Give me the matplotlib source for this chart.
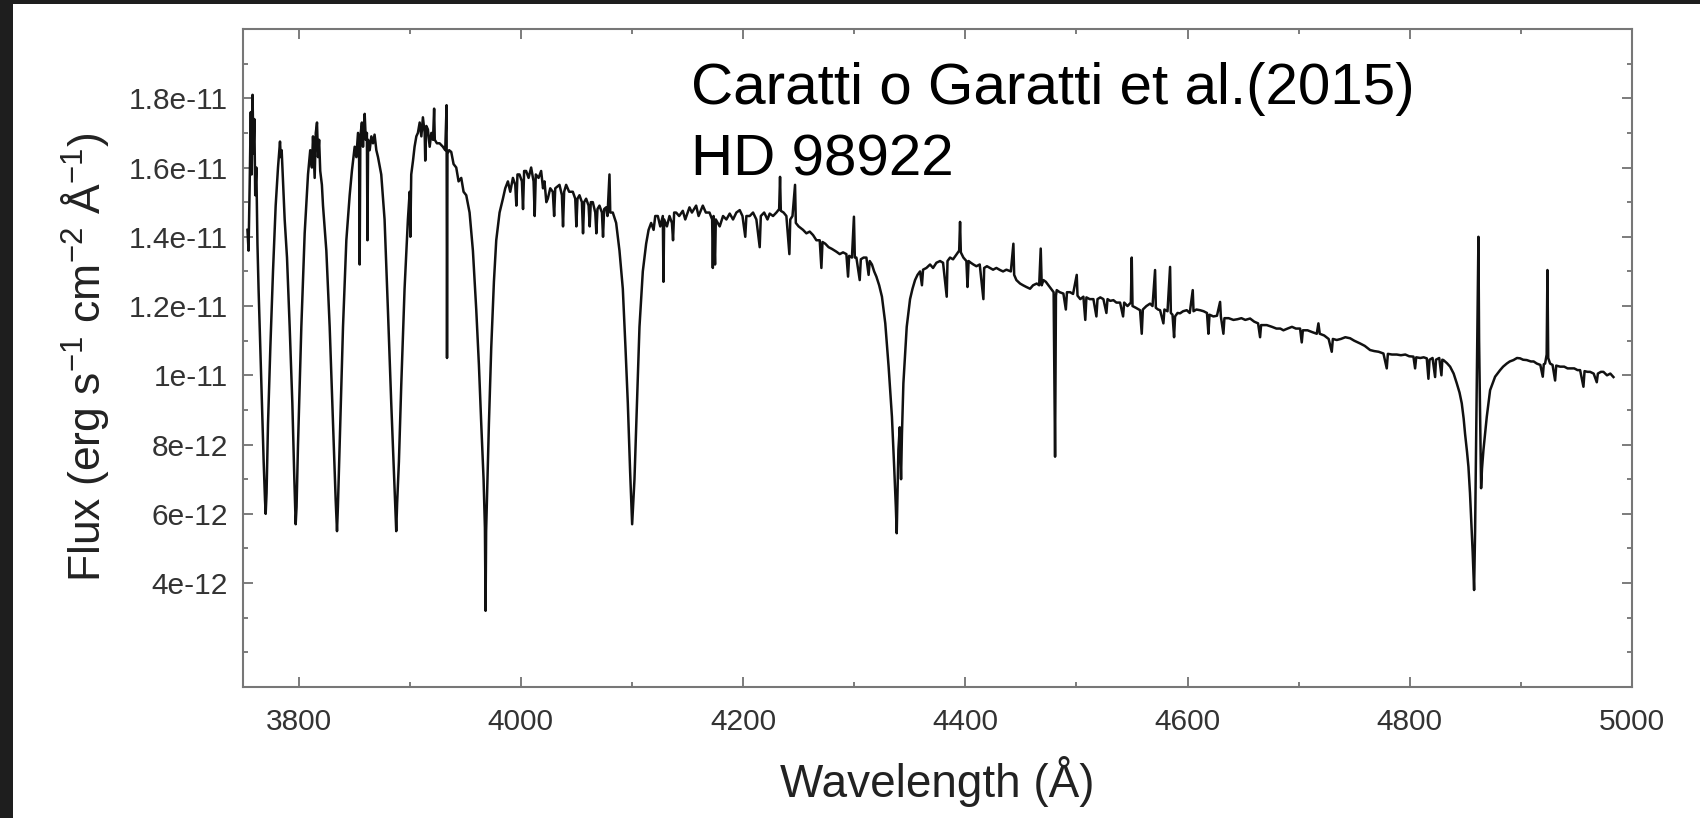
import matplotlib
matplotlib.use('Agg')
import matplotlib.pyplot as plt
from matplotlib.patches import Rectangle
from matplotlib.ticker import FixedLocator, FixedFormatter, MultipleLocator

plt.rcParams['font.family'] = ['Liberation Sans', 'DejaVu Sans']
plt.rcParams['mathtext.fontset'] = 'custom'
plt.rcParams['mathtext.rm'] = 'Liberation Sans'
plt.rcParams['mathtext.it'] = 'Liberation Sans'
plt.rcParams['mathtext.default'] = 'regular'

# Spectrum, split in pieces (flux in units of 1e-12)
# 3750 - 3980 A : high Balmer lines, Ca II H and K
wl_blue = [3754.0, 3755.0, 3756.0, 3757.0, 3757.8, 3758.6, 3759.4, 3760.2, 3761.0, 3762.0,
           3763.0, 3764.0, 3765.0, 3767.0, 3768.6, 3769.8, 3770.4, 3771.2, 3772.5, 3774.6,
           3777.0, 3779.4, 3781.5, 3782.5, 3783.3, 3784.0, 3784.8, 3786.0, 3787.5, 3789.6,
           3792.0, 3794.4, 3796.2, 3797.4, 3798.2, 3799.5, 3802.5, 3805.5, 3808.5, 3810.5,
           3812.0, 3813.0, 3814.5, 3815.5, 3816.6, 3817.5, 3818.5, 3819.5, 3821.0, 3822.0,
           3825.0, 3828.0, 3831.0, 3833.4, 3834.6, 3835.4, 3837.0, 3840.0, 3843.0, 3846.0,
           3848.0, 3850.5, 3852.0, 3853.5, 3854.5, 3855.0, 3855.6, 3857.0, 3858.0, 3859.5,
           3860.5, 3861.5, 3862.0, 3862.6, 3864.0, 3865.5, 3867.0, 3868.4, 3870.0, 3871.5,
           3874.4, 3877.4, 3880.4, 3883.4, 3886.4, 3887.9, 3888.7, 3890.3, 3892.4, 3895.4,
           3898.4, 3900.0, 3900.6, 3901.4, 3903.0, 3904.4, 3906.0, 3907.4, 3909.0, 3910.5,
           3911.9, 3913.5, 3914.0, 3915.0, 3916.4, 3918.0, 3919.5, 3921.0, 3922.0, 3922.6,
           3924.5, 3926.9, 3929.9, 3932.0, 3933.2, 3933.6, 3934.0, 3935.5, 3937.4, 3939.5,
           3941.9, 3944.0, 3946.4, 3948.5, 3950.9, 3953.9, 3956.9, 3959.9, 3962.3, 3964.4,
           3966.5, 3967.7, 3968.3, 3968.8, 3969.5, 3971.3, 3973.4, 3975.8, 3977.9, 3980.9]
flux_blue = [14.2, 13.6, 15.5, 17.6, 15.8, 18.1, 16.4, 17.4, 15.2, 16.0,
             13.8, 12.5, 11.4, 9.2, 7.5, 6.4, 6.0, 6.6, 8.6, 10.8,
             13.0, 14.9, 16.0, 16.4, 16.75, 16.3, 16.5, 15.6, 14.5, 13.4,
             11.4, 9.2, 7.0, 5.7, 6.2, 8.0, 11.4, 14.1, 15.8, 16.5,
             16.0, 16.9, 15.7, 17.0, 17.3, 16.3, 16.8, 15.9, 15.5, 14.9,
             13.6, 11.4, 8.6, 6.4, 5.5, 6.2, 8.0, 11.4, 13.9, 15.2,
             15.9, 16.6, 16.3, 17.0, 16.2, 13.2, 16.9, 17.3, 16.6, 17.55,
             16.8, 17.0, 13.9, 16.8, 16.5, 16.9, 16.7, 16.95, 16.5, 16.3,
             15.8, 14.5, 11.9, 9.2, 6.7, 5.5, 6.3, 7.5, 9.7, 12.5,
             14.5, 15.3, 14.0, 15.8, 16.2, 16.6, 16.9, 17.0, 17.3, 16.9,
             17.45, 17.0, 16.2, 17.2, 17.1, 16.6, 17.0, 16.8, 17.7, 16.8,
             16.7, 16.7, 16.6, 16.5, 17.8, 10.5, 16.4, 16.5, 16.45, 16.1,
             16.0, 15.6, 15.7, 15.3, 15.2, 14.7, 13.6, 11.9, 10.3, 8.6,
             7.0, 5.6, 3.2, 5.5, 6.4, 8.6, 10.8, 12.7, 13.9, 14.7]

# 3980 - 4175 A : H delta
wl_hdelta = [3983.9, 3986.0, 3988.4, 3990.5, 3992.9, 3995.0, 3996.0, 3997.0, 3998.8, 4001.0,
             4002.0, 4003.0, 4004.8, 4007.0, 4009.3, 4011.5, 4012.5, 4013.5, 4016.0, 4018.3,
             4020.0, 4021.3, 4023.0, 4024.3, 4026.5, 4028.8, 4030.0, 4031.0, 4034.8, 4037.0,
             4038.0, 4039.0, 4040.8, 4043.5, 4046.8, 4049.0, 4050.0, 4051.0, 4052.8, 4055.0,
             4056.0, 4057.0, 4058.8, 4061.0, 4062.0, 4063.0, 4064.8, 4067.0, 4068.0, 4069.0,
             4070.8, 4073.0, 4074.0, 4075.0, 4076.8, 4078.0, 4079.8, 4080.5, 4082.8, 4085.8,
             4088.8, 4091.8, 4094.2, 4096.3, 4098.4, 4100.2, 4101.0, 4102.3, 4104.5, 4106.8,
             4109.8, 4112.8, 4115.0, 4117.3, 4119.5, 4121.0, 4123.3, 4125.5, 4127.8, 4128.4,
             4129.0, 4131.5, 4133.8, 4136.0, 4137.0, 4138.0, 4139.8, 4142.5, 4145.8, 4148.0,
             4151.8, 4154.0, 4157.8, 4160.0, 4163.8, 4166.5, 4169.8, 4172.2, 4172.8, 4173.5]
flux_hdelta = [15.1, 15.4, 15.6, 15.3, 15.7, 15.5, 14.9, 15.8, 15.8, 15.6,
               14.8, 15.9, 15.9, 15.7, 16.0, 15.6, 14.6, 15.8, 15.7, 15.9,
               15.4, 15.6, 15.0, 15.1, 15.4, 15.3, 14.6, 15.4, 15.5, 15.2,
               14.3, 15.3, 15.5, 15.3, 15.3, 15.1, 14.3, 15.1, 15.2, 15.0,
               14.1, 15.0, 15.1, 14.9, 14.3, 15.0, 15.0, 14.7, 14.1, 14.8,
               14.9, 14.7, 14.0, 14.8, 14.85, 14.6, 15.8, 14.7, 14.7, 14.4,
               13.6, 12.5, 10.8, 9.2, 7.2, 5.7, 6.2, 7.0, 9.2, 11.4,
               13.0, 13.8, 14.2, 14.4, 14.2, 14.6, 14.6, 14.3, 14.6, 12.7,
               14.5, 14.3, 14.6, 14.4, 13.9, 14.7, 14.7, 14.6, 14.75, 14.5,
               14.85, 14.7, 14.9, 14.6, 14.9, 14.7, 14.7, 14.5, 13.1, 14.6]

# 4175 - 4566 A : H gamma, Mg II 4481
wl_hgamma = [4174.8, 4175.5, 4179.0, 4182.0, 4185.0, 4188.0, 4191.0, 4194.0, 4197.0, 4199.5,
             4202.0, 4203.0, 4206.0, 4209.0, 4212.0, 4215.0, 4216.0, 4219.0, 4222.0, 4224.0,
             4227.0, 4230.0, 4232.5, 4233.3, 4234.0, 4236.5, 4239.0, 4241.7, 4242.5, 4244.5,
             4246.8, 4247.5, 4250.0, 4254.0, 4257.0, 4260.0, 4263.0, 4266.0, 4269.0, 4270.5,
             4271.5, 4274.0, 4277.0, 4280.0, 4284.0, 4287.0, 4290.0, 4293.0, 4294.5, 4295.5,
             4298.0, 4299.8, 4300.6, 4302.0, 4305.0, 4306.0, 4308.5, 4311.0, 4313.0, 4314.0,
             4316.0, 4318.0, 4320.0, 4322.5, 4325.0, 4328.0, 4331.0, 4334.0, 4336.0, 4337.5,
             4338.3, 4339.2, 4339.8, 4341.0, 4342.2, 4343.0, 4344.3, 4347.3, 4350.3, 4352.5,
             4354.8, 4357.0, 4359.3, 4361.0, 4362.0, 4365.0, 4368.3, 4371.0, 4374.0, 4377.3,
             4380.0, 4383.3, 4384.0, 4386.3, 4389.0, 4392.3, 4394.5, 4395.3, 4396.0, 4398.3,
             4401.0, 4402.0, 4403.0, 4405.0, 4407.3, 4410.0, 4413.0, 4416.3, 4417.0, 4419.5,
             4422.3, 4425.0, 4428.0, 4431.3, 4434.0, 4437.0, 4441.0, 4443.3, 4444.0, 4446.0,
             4449.3, 4452.0, 4455.0, 4458.3, 4461.0, 4464.3, 4466.5, 4467.9, 4468.8, 4470.3,
             4472.5, 4474.8, 4477.0, 4479.5, 4480.8, 4481.6, 4482.3, 4485.0, 4488.3, 4490.5,
             4491.5, 4494.3, 4497.0, 4500.3, 4501.0, 4503.5, 4506.3, 4508.0, 4509.0, 4512.0,
             4515.3, 4518.0, 4519.0, 4521.5, 4524.3, 4527.0, 4528.0, 4530.5, 4533.3, 4536.0,
             4539.3, 4542.0, 4543.0, 4546.0, 4549.0, 4549.8, 4550.5, 4553.5, 4557.3, 4558.8,
             4559.8, 4563.0, 4566.3]
flux_hgamma = [13.2, 14.5, 14.3, 14.6, 14.5, 14.67, 14.5, 14.7, 14.77, 14.6,
               14.0, 14.6, 14.6, 14.7, 14.5, 13.7, 14.6, 14.7, 14.5, 14.67,
               14.6, 14.7, 14.8, 15.73, 14.75, 14.7, 14.6, 13.5, 14.5, 14.6,
               15.5, 14.4, 14.3, 14.2, 14.1, 14.15, 14.05, 13.9, 13.9, 13.1,
               13.85, 13.8, 13.7, 13.65, 13.57, 13.5, 13.55, 13.5, 12.85, 13.45,
               13.4, 14.58, 13.4, 13.4, 12.75, 13.35, 13.4, 13.4, 12.9, 13.3,
               13.2, 13.0, 12.85, 12.6, 12.27, 11.5, 10.25, 8.8, 7.36, 6.2,
               5.44, 6.8, 7.84, 8.5, 7.0, 8.3, 9.77, 11.4, 12.2, 12.5,
               12.75, 12.9, 13.0, 12.6, 13.05, 13.1, 13.2, 13.1, 13.25, 13.3,
               13.25, 12.27, 13.3, 13.4, 13.35, 13.5, 13.6, 14.43, 13.55, 13.4,
               13.3, 12.55, 13.3, 13.25, 13.2, 13.15, 13.2, 12.2, 13.1, 13.15,
               13.1, 13.05, 13.1, 13.04, 13.0, 13.05, 13.0, 13.8, 12.9, 12.75,
               12.65, 12.6, 12.55, 12.5, 12.6, 12.65, 12.6, 13.66, 12.6, 12.75,
               12.7, 12.6, 12.5, 12.4, 7.65, 12.3, 12.46, 12.4, 12.36, 11.9,
               12.4, 12.4, 12.35, 12.9, 12.3, 12.2, 12.27, 11.6, 12.25, 12.2,
               12.2, 11.7, 12.2, 12.25, 12.2, 11.8, 12.2, 12.15, 12.17, 12.1,
               12.1, 11.7, 12.1, 12.0, 12.1, 13.4, 12.0, 11.95, 11.88, 11.2,
               11.9, 12.0, 12.07]

# 4566 - 4985 A : H beta with its emission core
wl_hbeta = [4568.5, 4570.8, 4571.5, 4573.5, 4575.3, 4578.3, 4579.2, 4582.0, 4584.3, 4585.0,
            4586.5, 4587.9, 4588.8, 4591.0, 4593.3, 4596.0, 4599.3, 4602.0, 4604.7, 4605.4,
            4608.0, 4611.3, 4614.5, 4617.5, 4618.8, 4619.8, 4623.3, 4626.5, 4629.3, 4630.0,
            4632.3, 4633.2, 4637.0, 4641.3, 4645.0, 4648.5, 4652.0, 4656.3, 4660.0, 4663.5,
            4665.3, 4666.2, 4671.3, 4676.0, 4680.0, 4683.5, 4686.3, 4690.0, 4694.0, 4697.5,
            4701.3, 4702.8, 4703.8, 4708.0, 4712.0, 4716.3, 4717.8, 4719.0, 4723.0, 4727.0,
            4729.8, 4730.8, 4734.3, 4738.0, 4742.0, 4746.3, 4750.0, 4755.3, 4759.5, 4764.3,
            4768.0, 4772.0, 4776.3, 4779.3, 4780.3, 4784.0, 4788.3, 4792.0, 4796.0, 4799.5,
            4803.3, 4804.8, 4805.8, 4809.5, 4812.5, 4815.3, 4816.8, 4817.8, 4820.5, 4822.8,
            4823.6, 4826.5, 4828.5, 4829.3, 4830.3, 4833.5, 4836.3, 4839.5, 4842.3, 4844.8,
            4846.8, 4848.5, 4849.8, 4851.5, 4852.8, 4854.2, 4855.2, 4856.6, 4857.9, 4858.8,
            4859.6, 4860.3, 4861.0, 4861.8, 4862.4, 4863.3, 4864.2, 4865.0, 4866.3, 4869.3,
            4872.3, 4876.8, 4881.3, 4884.0, 4887.3, 4890.0, 4893.3, 4896.5, 4899.3, 4902.0,
            4905.3, 4909.0, 4911.5, 4914.3, 4917.5, 4919.7, 4920.6, 4921.8, 4923.2, 4923.9,
            4924.6, 4926.3, 4928.5, 4930.8, 4931.8, 4935.3, 4939.0, 4942.0, 4944.3, 4948.0,
            4951.0, 4953.3, 4956.3, 4957.3, 4960.0, 4962.3, 4965.5, 4968.3, 4969.3, 4972.0,
            4974.3, 4977.5, 4980.5, 4983.3]
flux_hbeta = [12.0, 13.04, 11.95, 11.9, 11.88, 11.5, 11.9, 11.85, 13.13, 11.8,
              11.75, 11.1, 11.7, 11.8, 11.79, 11.85, 11.88, 11.8, 12.46, 11.85,
              11.9, 11.88, 11.85, 11.8, 11.2, 11.75, 11.7, 11.72, 12.12, 11.7,
              11.2, 11.65, 11.65, 11.6, 11.62, 11.65, 11.6, 11.64, 11.55, 11.5,
              11.1, 11.45, 11.45, 11.4, 11.35, 11.35, 11.3, 11.35, 11.4, 11.35,
              11.35, 10.95, 11.3, 11.3, 11.25, 11.2, 11.5, 11.2, 11.15, 11.05,
              10.68, 11.05, 11.02, 11.05, 11.1, 11.07, 11.0, 10.92, 10.85, 10.73,
              10.7, 10.68, 10.63, 10.2, 10.62, 10.6, 10.6, 10.58, 10.6, 10.55,
              10.54, 10.2, 10.52, 10.5, 10.52, 10.49, 9.9, 10.45, 10.5, 9.95,
              10.45, 10.5, 10.0, 10.45, 10.44, 10.35, 10.25, 10.05, 9.77, 9.5,
              9.19, 8.75, 8.3, 7.8, 7.36, 6.6, 5.9, 4.9, 3.8, 5.5,
              7.8, 9.77, 12.0, 14.0, 11.0, 8.8, 6.74, 7.3, 7.84, 8.8,
              9.57, 9.96, 10.15, 10.25, 10.34, 10.4, 10.44, 10.5, 10.49, 10.45,
              10.44, 10.4, 10.4, 10.34, 10.3, 9.96, 10.32, 10.34, 10.6, 13.04,
              10.5, 10.34, 10.3, 9.85, 10.28, 10.25, 10.25, 10.2, 10.2, 10.2,
              10.15, 10.15, 9.67, 10.12, 10.1, 10.1, 10.05, 9.8, 10.05, 10.1,
              10.1, 10.0, 10.05, 9.95]

xtick_values = [3800, 4000, 4200, 4400, 4600, 4800, 5000]
ytick_values = [4e-12, 6e-12, 8e-12, 1e-11, 1.2e-11, 1.4e-11, 1.6e-11, 1.8e-11]
ytick_labels = ['4e-12', '6e-12', '8e-12', '1e-11', '1.2e-11', '1.4e-11', '1.6e-11', '1.8e-11']

wavelength = wl_blue + wl_hdelta + wl_hgamma + wl_hbeta
flux = [f * 1e-12 for f in flux_blue + flux_hdelta + flux_hgamma + flux_hbeta]

fig = plt.figure(figsize=(17, 8.18), dpi=100)
fig.patch.set_facecolor('white')

# dark screenshot border on the left and top
fig.patches.append(Rectangle((0, 0), 13 / 1700, 1, transform=fig.transFigure,
                             facecolor='#1e1e1e', edgecolor='none'))
fig.patches.append(Rectangle((0, 1 - 4 / 818), 1, 4 / 818, transform=fig.transFigure,
                             facecolor='#1e1e1e', edgecolor='none'))

ax = fig.add_axes([243 / 1700, 1 - 687 / 818, 1389 / 1700, 658 / 818])
ax.plot(wavelength, flux, color='#111111', lw=1.8)

ax.set_xlim(3750, 5000)
ax.set_ylim(1e-12, 2e-11)

ax.xaxis.set_major_locator(FixedLocator(xtick_values))
ax.xaxis.set_minor_locator(MultipleLocator(100))
ax.yaxis.set_major_locator(FixedLocator(ytick_values))
ax.yaxis.set_major_formatter(FixedFormatter(ytick_labels))
ax.yaxis.set_minor_locator(MultipleLocator(1e-12))

ax.tick_params(which='both', direction='in', top=True, right=True,
               color='#666666', width=1.2)
ax.tick_params(which='major', length=7, labelsize=21.5, labelcolor='#333333')
ax.tick_params(axis='x', which='major', pad=15)
ax.tick_params(axis='y', which='major', pad=11)
ax.tick_params(which='minor', length=3.5)
for sp in ax.spines.values():
    sp.set_color('#777777')
    sp.set_linewidth(1.5)

ax.set_xlabel('Wavelength (Å)', fontsize=33, color='#222222', va='baseline')
ax.xaxis.set_label_coords(0.5, (687 - 797) / 658)
ax.set_ylabel(r'Flux (erg s$^{-1}$ cm$^{-2}$ Å$^{-1}$)', fontsize=32,
              color='#222222', va='center')
ax.yaxis.set_label_coords(85 / 1700, 1 - 357 / 818, transform=fig.transFigure)

# reference note, two lines placed separately
ax.text(0.3225, (687 - 104) / 658, 'Caratti o Garatti et al.(2015)',
        transform=ax.transAxes, fontsize=42, va='baseline', ha='left', color='black')
ax.text(0.3225, (687 - 176) / 658, 'HD 98922',
        transform=ax.transAxes, fontsize=42, va='baseline', ha='left', color='black')

fig.savefig('out.png', dpi=100)
